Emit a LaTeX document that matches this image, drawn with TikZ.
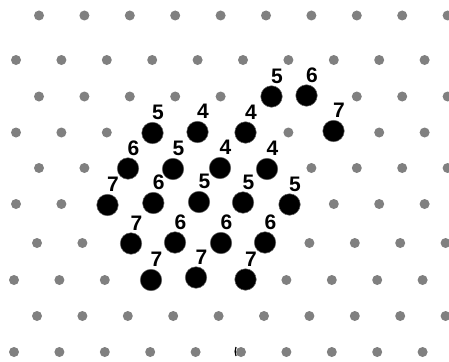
\documentclass[tikz,border=0pt]{standalone}
\usepackage{fontspec}
\setmainfont{Liberation Sans}
\begin{document}
\begin{tikzpicture}[x=1pt,y=-1pt,
  site/.style={fill=gray},
  atom/.style={draw=black!60,fill=black,circle,inner sep=0pt,minimum size=21.5pt,line width=0.5pt},
  num/.style={font=\fontsize{21}{21}\selectfont\bfseries,inner sep=0pt}]
\useasboundingbox (0,0) rectangle (449,361);
% background lattice
\foreach \y/\x in {15.5/39,60/16,96.5/39,132.5/16,168/39,204/16,243/37,280/14,316/37,352/14}
  \foreach \k in {0,...,9}
    \fill[site] ({\x+45.4*\k},\y) circle (5);
% occupied sites with their numbers
\foreach \n/\x/\y/\v in {1/271.5/96.5/5, 2/306.5/95.5/6,
    3/152.5/133/5, 4/197.5/132/4, 5/245.5/132.5/4, 6/333.5/131/7,
    7/128/168.5/6, 8/173/169/5, 9/220/168/4, 10/267/169/4,
    11/107.5/205/7, 12/153.3/203/6, 13/199/202/5, 14/243/202.5/5, 15/289.5/204.5/5,
    16/131/243.5/7, 17/175/242.5/6, 18/221/243/6, 19/265/242.5/6,
    20/151/280/7, 21/196/277.5/7, 22/245.5/279.5/7}
{
  \node[atom] (a\n) at (\x,\y) {};
  \node[num] (t\n) at ({\x+5.5},{\y-20.5}) {\v};
}
\draw[line width=1.2pt] (236,347) to[bend right=20] (236,356);
\end{tikzpicture}
\end{document}
